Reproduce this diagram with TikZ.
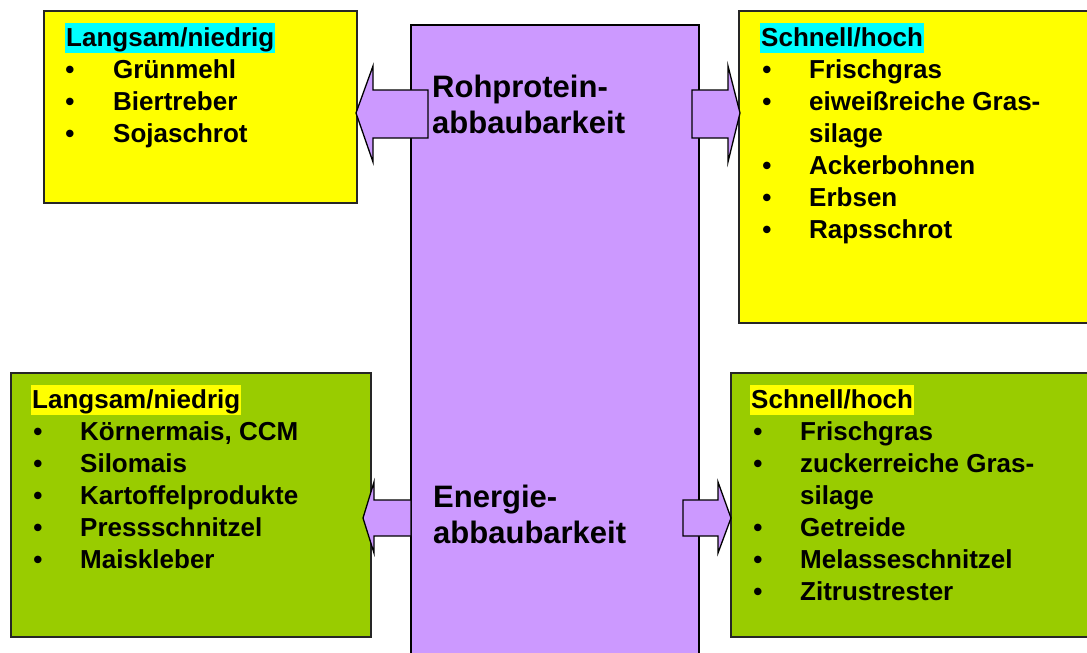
\documentclass[tikz,border=0pt]{standalone}
\usepackage{fontspec}
\setmainfont{Liberation Sans}
\definecolor{boxyellow}{HTML}{FFFF00}
\definecolor{boxgreen}{HTML}{99CC00}
\definecolor{boxpurple}{HTML}{CC99FF}
\definecolor{hlcyan}{HTML}{00FFFF}
\begin{document}
\begin{tikzpicture}[x=1pt,y=-1pt,
  panel/.style={draw=black!85, line width=1.3pt, anchor=north west, inner sep=0pt, outer sep=0pt},
  blockarrow/.style={draw=black, line width=1.3pt, fill=boxpurple, line join=miter},
  hdr/.style={anchor=base west, inner xsep=1pt, inner ysep=0pt, text height=23pt, text depth=7pt, font=\fontsize{26}{32}\selectfont\bfseries},
  itemtext/.style={anchor=base west, inner sep=0pt, font=\fontsize{26}{32}\selectfont\bfseries},
  bul/.style={anchor=base, inner sep=0pt, font=\fontsize{26}{32}\selectfont\bfseries},
  center/.style={anchor=base west, inner sep=0pt, font=\fontsize{31}{36}\selectfont\bfseries}]
\useasboundingbox (0,0) rectangle (1087,653);
\clip (0,0) rectangle (1087,653);
\fill[white] (0,0) rectangle (1087,653);

% central column
\node[panel, draw=black, fill=boxpurple, minimum width=288pt, minimum height=640pt] (mid) at (411,25) {};

% panels
\node[panel, fill=boxyellow, minimum width=313pt, minimum height=192pt] (tl) at (44,11) {};
\node[panel, fill=boxyellow, minimum width=360pt, minimum height=312pt] (tr) at (739,11) {};
\node[panel, fill=boxgreen, minimum width=360pt, minimum height=264pt] (bl) at (11,373) {};
\node[panel, fill=boxgreen, minimum width=370pt, minimum height=264pt] (br) at (731,373) {};

% block arrows
\draw[blockarrow] (428,90) -- (373,90) -- (373,66) -- (356,113) -- (373,162) -- (373,138) -- (428,138) -- cycle;
\draw[blockarrow] (692,90) -- (728,90) -- (728,66) -- (740,113) -- (728,162) -- (728,138) -- (692,138) -- cycle;
\draw[blockarrow] (411,500) -- (374,500) -- (374,482) -- (363,518) -- (374,553) -- (374,536) -- (411,536) -- cycle;
\draw[blockarrow] (683,500) -- (718,500) -- (718,482) -- (731,518) -- (718,553) -- (718,536) -- (683,536) -- cycle;

% central labels
\node[center] (c1) at (432,97) {Rohprotein-};
\node[center] (c2) at (432,133) {abbaubarkeit};
\node[center] (c3) at (433,507) {Energie-};
\node[center] (c4) at (433,543) {abbaubarkeit};

% top left
\node[hdr, fill=hlcyan] (tlh) at (65,46) {Langsam/niedrig};
\foreach \y/\t [count=\i] in {78/Grünmehl,110/Biertreber,142/Sojaschrot}{
  \node[bul] (tlb\i) at (70,\y) {\textbullet};
  \node[itemtext] (tlt\i) at (113,\y) {\t};
}

% top right
\node[hdr, fill=hlcyan] (trh) at (760,46) {Schnell/hoch};
\foreach \y/\t [count=\i] in {78/Frischgras,110/eiweißreiche Gras-,174/Ackerbohnen,206/Erbsen,238/Rapsschrot}{
  \node[bul] (trb\i) at (767,\y) {\textbullet};
  \node[itemtext] (trt\i) at (809,\y) {\t};
}
\node[itemtext] (trt2b) at (809,142) {silage};

% bottom left
\node[hdr, fill=boxyellow] (blh) at (31,408) {Langsam/niedrig};
\foreach \y/\t [count=\i] in {440/{Körnermais, CCM},472/Silomais,504/Kartoffelprodukte,536/Pressschnitzel,568/Maiskleber}{
  \node[bul] (blb\i) at (38,\y) {\textbullet};
  \node[itemtext] (blt\i) at (80,\y) {\t};
}

% bottom right
\node[hdr, fill=boxyellow] (brh) at (750,408) {Schnell/hoch};
\foreach \y/\t [count=\i] in {440/Frischgras,472/zuckerreiche Gras-,536/Getreide,568/Melasseschnitzel,600/Zitrustrester}{
  \node[bul] (brb\i) at (758,\y) {\textbullet};
  \node[itemtext] (brt\i) at (800,\y) {\t};
}
\node[itemtext] (brt2b) at (800,504) {silage};
\end{tikzpicture}
\end{document}
